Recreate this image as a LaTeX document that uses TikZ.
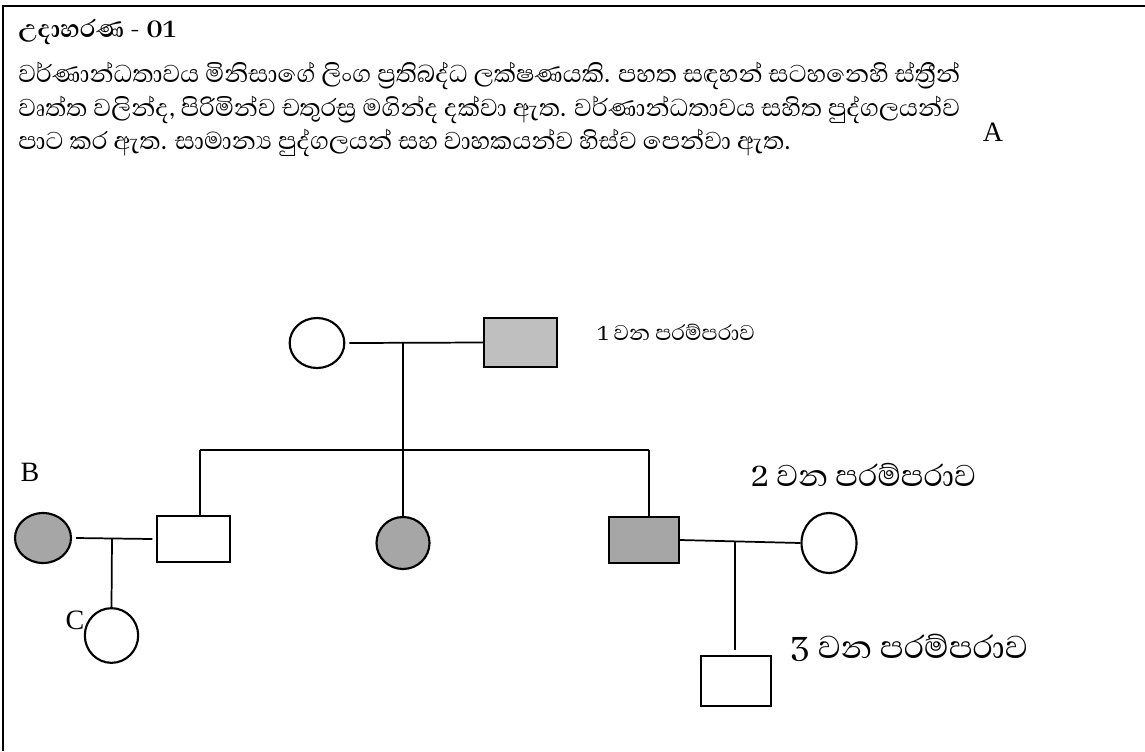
\documentclass[tikz,border=0pt]{standalone}
\usepackage{fontspec}
\usetikzlibrary{shapes.geometric}
\setmainfont{Liberation Serif}
\newfontfamily\sinhalafont[Script=Sinhala]{Abhaya Libre}

\definecolor{carrier}{HTML}{BFBFBF}
\definecolor{affected}{HTML}{A6A6A6}

\tikzset{
  female/.style={ellipse, draw, line width=1.6pt, inner sep=0pt,
    minimum width=41pt, minimum height=40pt},
  male/.style={rectangle, draw, line width=0.8pt, inner sep=0pt,
    minimum width=54pt, minimum height=35pt},
  link/.style={line width=1.3pt},
  para/.style={anchor=base west, inner sep=0pt, font=\sinhalafont\fontsize{23.5}{28}\selectfont},
  genlabel/.style={anchor=base west, inner sep=0pt, font=\sinhalafont\fontsize{29}{34}\selectfont},
  letter/.style={inner sep=0pt, font=\fontsize{21}{24}\selectfont}
}

\begin{document}
\begin{tikzpicture}[x=0.75pt,y=-0.75pt]
\useasboundingbox (0,0) rectangle (1145,751);

% page frame: top and left rules
\draw[line width=1.2pt] (3,751) -- (3,6) -- (1145,6);

% heading and explanatory paragraph
\node[para, font=\sinhalafont\bfseries\fontsize{23.5}{28}\selectfont] (title) at (18,37) {උදාහරණ - 01};
\node[para] (l1) at (18,82) {වර්ණාන්ධතාවය මිනිසාගේ ලිංග ප්‍රතිබද්ධ ලක්ෂණයකි. පහත සඳහන් සටහනෙහි ස්ත්‍රීන්};
\node[para] (l2) at (18,116) {වෘත්ත වලින්ද, පිරිමින්ව චතුරස්‍ර මගින්ද දක්වා ඇත. වර්ණාන්ධතාවය සහිත පුද්ගලයන්ව};
\node[para] (l3) at (18,149) {පාට කර ඇත. සාමාන්‍ය පුද්ගලයන් සහ වාහකයන්ව හිස්ව පෙන්වා ඇත.};

% letter labels
\node[letter] (A) at (993,132) {A};
\node[letter] (B) at (30,472) {B};
\node[letter] (C) at (75,620) {C};

% generation 1
\node[female, minimum width=41pt, minimum height=37.5pt] (g1f) at (317,343) {};
\node[male, fill=carrier, minimum width=54.75pt, minimum height=36.75pt] (g1m) at (520.5,342.5) {};
\node[para, font=\sinhalafont\fontsize{20.5}{24}\selectfont] (lab1) at (597,340) {1 වන පරම්පරාව};

% generation 2
\node[male, minimum width=54.75pt, minimum height=34.5pt] (s1) at (193.5,539) {};
\node[female, fill=affected, minimum width=39.75pt, minimum height=39pt] (d1) at (403,543) {};
\node[male, fill=affected, line width=1.8pt, minimum width=52.5pt, minimum height=34.5pt] (s2) at (644,540) {};
\node[female, minimum width=41.25pt, minimum height=45pt] (w2) at (829,543) {};
\node[female, fill=affected, minimum width=42pt, minimum height=37.5pt] (wb) at (43,538) {};
\node[genlabel] (lab2) at (751,486) {2 වන පරම්පරාව};

% generation 3
\node[female, minimum width=40pt, minimum height=41pt] (c) at (111.5,635.5) {};
\node[male, minimum width=52.5pt, minimum height=37.5pt] (s3) at (736,681) {};
\node[genlabel, font=\sinhalafont\fontsize{30.5}{35}\selectfont] (lab3) at (790,658) {3 වන පරම්පරාව};

% junction points on the marriage and sibship lines
\coordinate (m1) at (403,343);
\coordinate (sibL) at (200,450);
\coordinate (sibR) at (649,450);
\coordinate (m2) at (735,541);
\coordinate (m2end) at (735,650);
\coordinate (mb) at (112,538);

% generation 1 couple and their children
\draw[link] ([xshift=3pt]g1f.east) -- (g1m.west);
\draw[link] (m1) -- (d1.north);
\draw[link] (sibL) -- (sibR);
\draw[link] (sibL) -- (sibL |- s1.north);
\draw[link] (sibR) -- (sibR |- s2.north);

% couple on the right and their son
\draw[link] (s2.east) -- (w2.west);
\draw[link] (m2) -- (m2end);

% couple on the left and their daughter
\draw[link] ([xshift=3pt]wb.east) -- ([xshift=-3pt]s1.west);
\draw[link] (mb) -- (c.north);
\end{tikzpicture}
\end{document}
